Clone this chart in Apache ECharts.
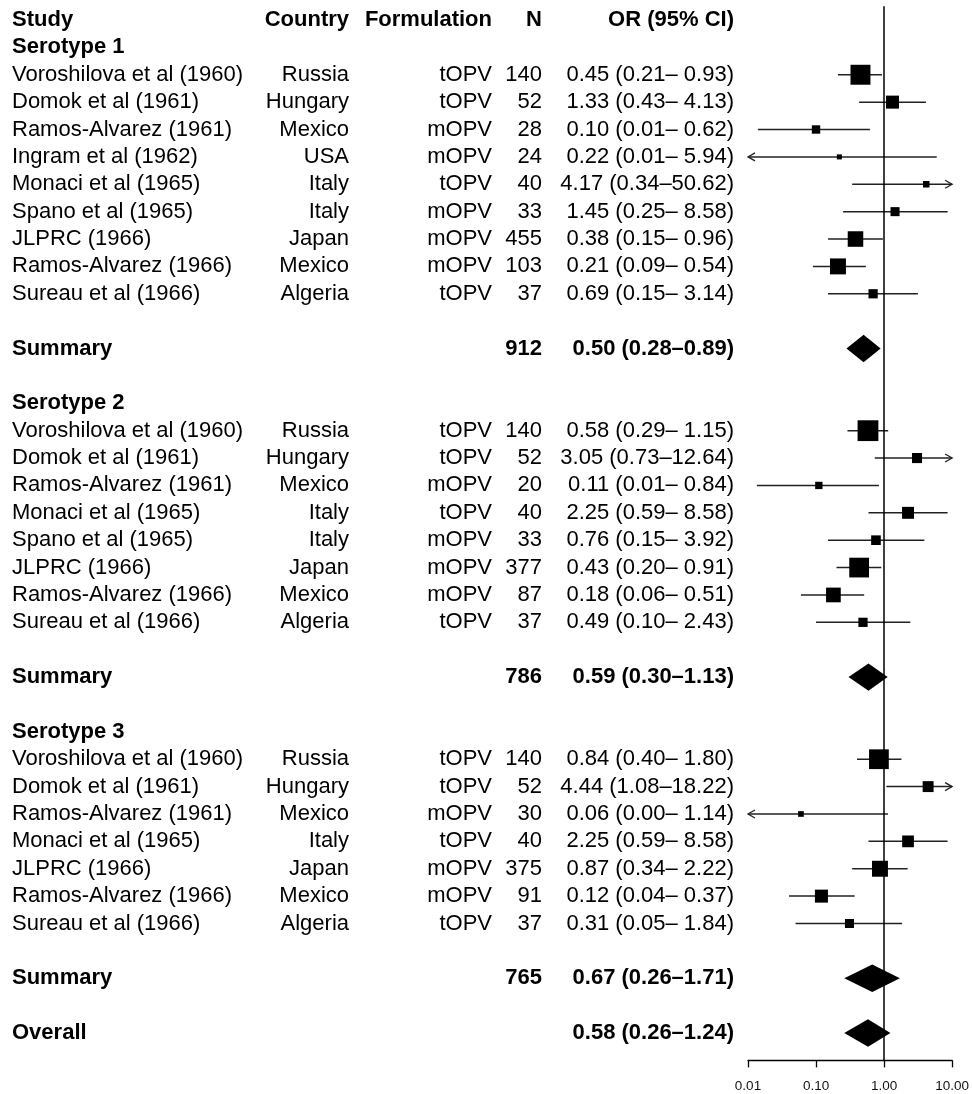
<!DOCTYPE html>
<html><head><meta charset="utf-8">
<script src="https://cdn.jsdelivr.net/npm/echarts@6/dist/echarts.min.js"></script>
<style>html,body{margin:0;padding:0;background:#fff}#chart{width:972px;height:1094px}</style>
</head><body><div id="chart"></div>
<script>
// ---------- data ----------
const headers = ['Study', 'Country', 'Formulation', 'N', 'OR (95% CI)'];
const groupTitles = ['Serotype 1', 'Serotype 2', 'Serotype 3'];
const studyGroup = [0,0,0,0,0,0,0,0,0, 1,1,1,1,1,1,1,1, 2,2,2,2,2,2,2];
const studies = [
  'Voroshilova et al (1960)','Domok et al (1961)','Ramos-Alvarez (1961)','Ingram et al (1962)','Monaci et al (1965)','Spano et al (1965)','JLPRC (1966)','Ramos-Alvarez (1966)','Sureau et al (1966)',
  'Voroshilova et al (1960)','Domok et al (1961)','Ramos-Alvarez (1961)','Monaci et al (1965)','Spano et al (1965)','JLPRC (1966)','Ramos-Alvarez (1966)','Sureau et al (1966)',
  'Voroshilova et al (1960)','Domok et al (1961)','Ramos-Alvarez (1961)','Monaci et al (1965)','JLPRC (1966)','Ramos-Alvarez (1966)','Sureau et al (1966)'
];
const countries = [
  'Russia','Hungary','Mexico','USA','Italy','Italy','Japan','Mexico','Algeria',
  'Russia','Hungary','Mexico','Italy','Italy','Japan','Mexico','Algeria',
  'Russia','Hungary','Mexico','Italy','Japan','Mexico','Algeria'
];
const formulations = [
  'tOPV','tOPV','mOPV','mOPV','tOPV','mOPV','mOPV','mOPV','tOPV',
  'tOPV','tOPV','mOPV','tOPV','mOPV','mOPV','mOPV','tOPV',
  'tOPV','tOPV','mOPV','tOPV','mOPV','mOPV','tOPV'
];
const nValues = [140,52,28,24,40,33,455,103,37, 140,52,20,40,33,377,87,37, 140,52,30,40,375,91,37];
const orValues = [0.45,1.33,0.10,0.22,4.17,1.45,0.38,0.21,0.69, 0.58,3.05,0.11,2.25,0.76,0.43,0.18,0.49, 0.84,4.44,0.06,2.25,0.87,0.12,0.31];
const ciLower = [0.21,0.43,0.014,0.0052,0.34,0.25,0.15,0.09,0.15, 0.29,0.73,0.0135,0.59,0.15,0.20,0.06,0.10, 0.40,1.08,0.004,0.59,0.34,0.04,0.05];
const ciUpper = [0.93,4.13,0.62,5.94,50.62,8.58,0.96,0.54,3.14, 1.15,12.64,0.84,8.58,3.92,0.91,0.51,2.43, 1.80,18.22,1.14,8.58,2.22,0.37,1.84];
const boxWeights = [0.95,0.62,0.40,0.24,0.31,0.43,0.74,0.76,0.44, 0.99,0.48,0.35,0.57,0.46,0.94,0.70,0.44, 0.94,0.52,0.27,0.56,0.76,0.62,0.43];
const summaryLabels = ['Summary','Summary','Summary','Overall'];
const summaryN = [912, 786, 765, null];
const summaryOR = [0.50, 0.59, 0.67, 0.58];
const summaryLower = [0.28, 0.30, 0.26, 0.26];
const summaryUpper = [0.89, 1.13, 1.71, 1.24];
const tickValues = [0.01, 0.1, 1, 10];
const tickLabels = ['0.01', '0.10', '1.00', '10.00'];

// ---------- layout constants ----------
const FONT = '"Liberation Sans", Arial, Helvetica, sans-serif';
const FS = 22;
const BOX_MAX = 21;
const XMIN = 0.01, XMAX = 10;
const COL = { study: 12, country: 349, form: 492, n: 542, or: 734 };

// ---------- build rows ----------
const fmtStudy = (o, l, h) => o.toFixed(2) + ' (' + l.toFixed(2) + '\u2013' + h.toFixed(2).padStart(5, ' ') + ')';
const fmtSum = (o, l, h) => o.toFixed(2) + ' (' + l.toFixed(2) + '\u2013' + h.toFixed(2) + ')';

const textRows = [];
const studyPoints = [];
const diamondPoints = [];
let row = 0;
textRows.push({ row: row, cells: headers, bold: true });
row++;
groupTitles.forEach((g, gi) => {
  textRows.push({ row: row, cells: [g, '', '', '', ''], bold: true });
  row++;
  studies.forEach((s, i) => {
    if (studyGroup[i] !== gi) return;
    textRows.push({ row: row, cells: [s, countries[i], formulations[i], String(nValues[i]), fmtStudy(orValues[i], ciLower[i], ciUpper[i])], bold: false });
    studyPoints.push([orValues[i], row, ciLower[i], ciUpper[i], boxWeights[i]]);
    row++;
  });
  row++;
  textRows.push({ row: row, cells: [summaryLabels[gi], '', '', String(summaryN[gi]), fmtSum(summaryOR[gi], summaryLower[gi], summaryUpper[gi])], bold: true });
  diamondPoints.push([summaryOR[gi], row, summaryLower[gi], summaryUpper[gi]]);
  row += 2;
});
textRows.push({ row: row, cells: [summaryLabels[3], '', '', '', fmtSum(summaryOR[3], summaryLower[3], summaryUpper[3])], bold: true });
diamondPoints.push([summaryOR[3], row, summaryLower[3], summaryUpper[3]]);
const lastRow = row;

const chart = echarts.init(document.getElementById('chart'), null, { renderer: 'canvas' });

const option = {
  animation: false,
  backgroundColor: '#ffffff',
  grid: { left: 748, right: 19, top: 6.3, bottom: 33.6, containLabel: false },
  xAxis: {
    type: 'log', logBase: 10, min: XMIN, max: XMAX, position: 'bottom',
    axisLine: { show: true, onZero: false, lineStyle: { color: '#000', width: 1.3 } },
    axisTick: { show: true, inside: false, length: 7, lineStyle: { color: '#000', width: 1.3 } },
    axisLabel: {
      margin: 19, color: '#111', fontSize: 13.5, fontFamily: FONT,
      formatter: v => { const k = tickValues.findIndex(t => Math.abs(Math.log10(t) - Math.log10(v)) < 1e-6); return k >= 0 ? tickLabels[k] : ''; }
    },
    splitLine: { show: false }
  },
  yAxis: { type: 'value', inverse: true, min: -0.5, max: lastRow + 1, show: false },
  series: [
    {
      type: 'custom', name: 'studies', clip: false,
      data: studyPoints,
      encode: { x: 0, y: 1 },
      markLine: {
        silent: true, symbol: 'none', label: { show: false },
        lineStyle: { color: '#000', width: 1.5, type: 'solid' },
        data: [{ xAxis: 1 }]
      },
      renderItem: (params, api) => {
        const o = api.value(0), r = api.value(1), lo = api.value(2), hi = api.value(3), w = api.value(4);
        const c = api.coord([o, r]);
        const pl = api.coord([Math.max(lo, XMIN), r]);
        const ph = api.coord([Math.min(hi, XMAX), r]);
        const y = c[1];
        const s = w * BOX_MAX;
        const children = [
          { type: 'line', shape: { x1: pl[0], y1: y, x2: ph[0], y2: y }, style: { stroke: '#222', lineWidth: 1.5 } }
        ];
        if (lo < XMIN) children.push({ type: 'polyline', shape: { points: [[pl[0] + 7, y - 4], [pl[0], y], [pl[0] + 7, y + 4]] }, style: { stroke: '#222', lineWidth: 1.3, fill: null } });
        if (hi > XMAX) children.push({ type: 'polyline', shape: { points: [[ph[0] - 7, y - 4], [ph[0], y], [ph[0] - 7, y + 4]] }, style: { stroke: '#222', lineWidth: 1.3, fill: null } });
        children.push({ type: 'rect', shape: { x: c[0] - s / 2, y: y - s / 2, width: s, height: s }, style: { fill: '#000' } });
        return { type: 'group', children: children };
      }
    },
    {
      type: 'custom', name: 'summaries', clip: false,
      data: diamondPoints,
      encode: { x: 0, y: 1 },
      renderItem: (params, api) => {
        const o = api.value(0), r = api.value(1), lo = api.value(2), hi = api.value(3);
        const c = api.coord([o, r]);
        const top = api.coord([o, r - 0.5]);
        const bot = api.coord([o, r + 0.5]);
        const pl = api.coord([lo, r]);
        const ph = api.coord([hi, r]);
        return { type: 'polygon', shape: { points: [[pl[0], c[1]], [c[0], top[1]], [ph[0], c[1]], [c[0], bot[1]]] }, style: { fill: '#000' } };
      }
    },
    {
      type: 'custom', name: 'table', clip: false, silent: true,
      data: textRows.map((t, i) => [1, t.row, i]),
      encode: { x: 0, y: 1 },
      renderItem: (params, api) => {
        const t = textRows[api.value(2)];
        const y = api.coord([1, t.row])[1];
        const font = (t.bold ? 'bold ' : '') + FS + 'px ' + FONT;
        const xs = [COL.study, COL.country, COL.form, COL.n, COL.or];
        const aligns = ['left', 'right', 'right', 'right', 'right'];
        const children = [];
        t.cells.forEach((txt, k) => {
          if (!txt) return;
          children.push({ type: 'text', x: xs[k], y: y, style: { text: txt, font: font, fill: '#000', align: aligns[k], verticalAlign: 'middle' } });
        });
        return { type: 'group', children: children };
      }
    }
  ]
};
chart.setOption(option);
</script>
</body></html>
